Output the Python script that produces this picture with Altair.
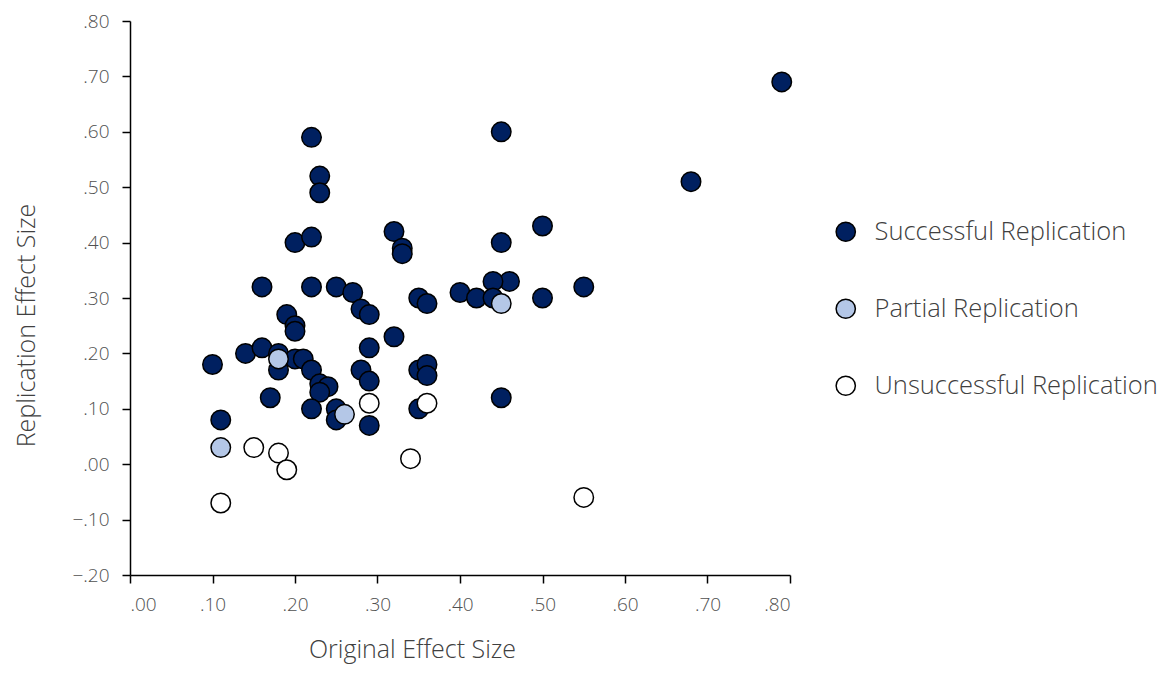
import altair as alt
import pandas as pd

# Successful replication
succ_x = [0.79, 0.68, 0.45, 0.50, 0.45, 0.55, 0.50, 0.46, 0.44, 0.40, 0.42, 0.44, 0.45,
          0.22, 0.23, 0.23, 0.20, 0.22, 0.16, 0.22, 0.25, 0.27, 0.32, 0.33, 0.33, 0.28,
          0.29, 0.35, 0.36, 0.32, 0.29, 0.35, 0.36, 0.36, 0.35, 0.28, 0.29, 0.29, 0.10,
          0.14, 0.16, 0.18, 0.18, 0.19, 0.20, 0.20, 0.20, 0.21, 0.22, 0.23, 0.24, 0.23,
          0.22, 0.17, 0.11, 0.25, 0.25]
succ_y = [0.69, 0.51, 0.60, 0.43, 0.40, 0.32, 0.30, 0.33, 0.33, 0.31, 0.30, 0.30, 0.12,
          0.59, 0.52, 0.49, 0.40, 0.41, 0.32, 0.32, 0.32, 0.31, 0.42, 0.39, 0.38, 0.28,
          0.27, 0.30, 0.29, 0.23, 0.21, 0.17, 0.18, 0.16, 0.10, 0.17, 0.15, 0.07, 0.18,
          0.20, 0.21, 0.20, 0.17, 0.27, 0.25, 0.24, 0.19, 0.19, 0.17, 0.145, 0.14, 0.13,
          0.10, 0.12, 0.08, 0.10, 0.08]

# Partial replication
part_x = [0.11, 0.18, 0.26, 0.45]
part_y = [0.03, 0.19, 0.09, 0.29]

# Unsuccessful replication
unsu_x = [0.11, 0.15, 0.18, 0.19, 0.29, 0.34, 0.36, 0.55]
unsu_y = [-0.07, 0.03, 0.02, -0.01, 0.11, 0.01, 0.11, -0.06]

categories = ["Successful Replication", "Partial Replication", "Unsuccessful Replication"]
colors = ["#002060", "#B4C7E7", "#FFFFFF"]

x_ticks = [0.0, 0.1, 0.2, 0.3, 0.4, 0.5, 0.6, 0.7, 0.8]
y_ticks = [-0.2, -0.1, 0.0, 0.1, 0.2, 0.3, 0.4, 0.5, 0.6, 0.7, 0.8]

rows = []
for xs, ys, cat in [(succ_x, succ_y, categories[0]),
                    (part_x, part_y, categories[1]),
                    (unsu_x, unsu_y, categories[2])]:
    for a, b in zip(xs, ys):
        rows.append({"orig": a, "repl": b, "group": cat})
df = pd.DataFrame(rows)
df["order"] = df["group"].map({c: i for i, c in enumerate(categories)})

FONT = "Open Sans"
TXT = "#404040"
LAB = "#505050"
lab_expr = "replace(format(datum.value, '.2f'), '0.', '.')"

chart = alt.Chart(df).mark_point(
    filled=True, shape="circle", size=380, stroke="black", strokeWidth=1.5, opacity=1
).encode(
    x=alt.X("orig:Q", scale=alt.Scale(domain=[0, 0.8], nice=False, zero=False),
            axis=alt.Axis(values=x_ticks, labelExpr=lab_expr, title="Original Effect Size",
                          titleX=282, titleY=82, titleBaseline="alphabetic",
                          titleAnchor="middle", titleAlign="center")),
    y=alt.Y("repl:Q", scale=alt.Scale(domain=[-0.2, 0.8], nice=False, zero=False),
            axis=alt.Axis(values=y_ticks, labelExpr=lab_expr, title="Replication Effect Size",
                          titleX=-91, titleY=304, titleAngle=-90, titleBaseline="bottom",
                          titleAlign="center")),
    fill=alt.Fill("group:N", scale=alt.Scale(domain=categories, range=colors),
                  legend=alt.Legend(title=None, orient="none", legendX=703, legendY=198,
                                    symbolType="circle", symbolSize=370,
                                    symbolStrokeColor="black", symbolStrokeWidth=1.5,
                                    symbolOpacity=1, labelLimit=500,
                                    labelFont=FONT, labelFontSize=25.5, labelColor=TXT,
                                    labelFontWeight=300,
                                    labelOffset=16, rowPadding=50)),
    order=alt.Order("order:Q"),
).properties(
    width=660, height=554,
    autosize=alt.AutoSizeParams(type="none"),
    padding={"left": 122, "top": 13, "right": 378, "bottom": 91},
).configure_view(
    stroke=None
).configure_axis(
    grid=False, domainColor="black", domainWidth=1.5, tickColor="black", tickWidth=1.5,
    tickSize=8, labelFont=FONT, labelFontSize=19, labelColor=LAB, labelFontWeight=300,
    titleFont=FONT, titleFontSize=25, titleColor=TXT, titleFontWeight=300, labelPadding=13
).configure_axisX(
    labelPadding=12
)

chart.save("out.html", embed_options={"renderer": "svg", "actions": False})
